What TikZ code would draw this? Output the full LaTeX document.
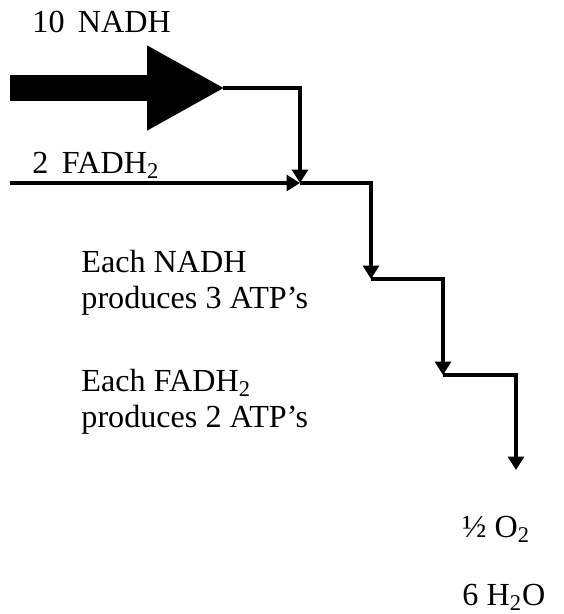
\documentclass[tikz,border=0pt]{standalone}
\usepackage{fontspec}
\setmainfont{Liberation Serif}
\usetikzlibrary{arrows.meta}

\tikzset{
  flow/.style={line width=1.7pt,-{Triangle[length=5.6pt,width=6.6pt]}},
  bigflow/.style={line width=10.8pt,-{Triangle[length=32.5pt,width=33pt]}},
  label/.style={anchor=base west,inner sep=0pt,align=left,
    font=\fontsize{13.4pt}{15pt}\selectfont},
}

\begin{document}
\begin{tikzpicture}[x=0.417pt,y=0.417pt,yscale=-1,xscale=1]
\useasboundingbox (0,0) rectangle (564,614);

%Points of the chain
\coordinate (nadhin) at (10,88);
\coordinate (nadhtip) at (225,88);
\coordinate (fadhin) at (10,183);
\coordinate (j1) at (300,183);
\coordinate (s1) at (371,279);
\coordinate (s2) at (443,375);
\coordinate (s3) at (516,470);

%Big arrow
\draw [bigflow] (nadhin) -- (nadhtip);
%Straight Lines
\draw [flow,line join=miter] ([xshift=-1]nadhtip) -| (j1);
\draw [flow] (fadhin) -- (j1);
%Steps
\draw [flow] (j1) -| (s1);
\draw [flow] (s1) -| (s2);
\draw [flow] (s2) -| (s3);

% Text Node
\node [label] (nadh) at (32,32) {10\, NADH};
% Text Node
\node [label] (fadh) at (32,173) {2\, FADH\textsubscript{2}};
% Text Node
\node [label] (eachnadh) at (81,308) {Each NADH\\produces 3 ATP’s};
% Text Node
\node [label] (eachfadh) at (81,427) {Each FADH\textsubscript{2}\\produces 2 ATP’s};
% Text Node
\node [label] (oxy) at (462,537) {½ O\textsubscript{2}};
% Text Node
\node [label] (water) at (462,605) {6 H\textsubscript{2}O};

\end{tikzpicture}
\end{document}
